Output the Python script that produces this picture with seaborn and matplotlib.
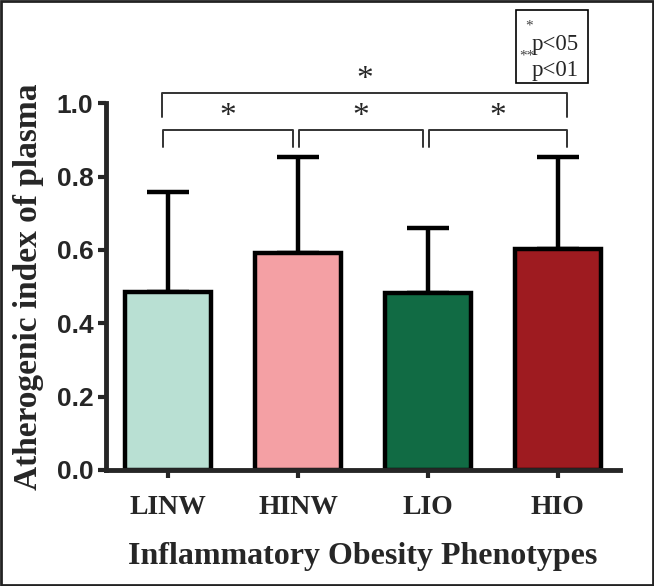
import numpy as np
import pandas as pd
import seaborn as sns
import matplotlib
matplotlib.use("Agg")
import matplotlib.pyplot as plt
from matplotlib.patches import Rectangle

groups = ["LINW", "HINW", "LIO", "HIO"]
means = [0.485, 0.592, 0.482, 0.603]
sds = [0.272, 0.262, 0.177, 0.250]
colors = ["#b9e0d3", "#f4a0a4", "#116b44", "#9e1b20"]

# significance brackets: (left group, right group, label, level)
pairs = [(0, 1, "*", 0), (1, 2, "*", 0), (2, 3, "*", 0), (0, 3, "*", 1)]

df = pd.DataFrame({"group": groups, "mean": means})

sns.set_style("ticks")
serif = ["Liberation Serif", "DejaVu Serif"]
sans = ["Liberation Sans", "DejaVu Sans"]

fig = plt.figure(figsize=(6.54, 5.86), dpi=100)
ax = fig.add_axes([0.162, 0.198, 0.786, 0.626])

sns.barplot(data=df, x="group", y="mean", hue="group", palette=colors,
            legend=False, errorbar=None, width=0.66, ax=ax,
            edgecolor="black", linewidth=3.2, saturation=1, zorder=2)

ax.errorbar(np.arange(len(groups)), means, yerr=[np.zeros(len(sds)), sds],
            fmt="none", ecolor="black", elinewidth=3.2, capsize=15,
            capthick=3.2, zorder=1)

ax.set_ylim(0, 1.0)
ax.set_xlim(-0.48, 3.48)
yt = np.arange(0, 1.01, 0.2)
ax.set_yticks(yt)
ax.set_yticklabels([f"{v:.1f}" for v in yt],
                   fontfamily=sans, fontweight="bold", fontsize=19)
ax.set_xticks(range(len(groups)))
ax.set_xticklabels(groups, fontfamily=serif, fontweight="bold", fontsize=20)
for s in ["top", "right"]:
    ax.spines[s].set_visible(False)
for s in ["left", "bottom"]:
    ax.spines[s].set_linewidth(3.5)
ax.tick_params(width=3, length=6, pad=3)
ax.tick_params(axis="x", pad=12)

ax.set_ylabel("Atherogenic index of plasma", fontfamily=serif,
              fontweight="bold", fontsize=24, labelpad=9)
ax.set_xlabel("Inflammatory Obesity Phenotypes", fontfamily=serif,
              fontweight="bold", fontsize=23, labelpad=16)

# brackets
for a, b, lab, lev in pairs:
    if lev == 0:
        y, leg, ys = 0.926, 0.88, 0.962
        xa = a + 0.01 if a > 0 else a - 0.04
        xb = b + 0.07 if b == 3 else b - 0.04
    else:
        y, leg, ys = 1.027, 0.962, 1.064
        xa, xb = a - 0.05, b + 0.07
    ax.plot([xa, xa, xb, xb], [leg, y, y, leg], color="#333333", lw=1.4,
            clip_on=False)
    ax.text((xa + xb) / 2, ys, lab, ha="center", va="center",
            fontfamily=serif, fontsize=24, clip_on=False)

# p-value key box
fig.add_artist(Rectangle((0.789, 0.858), 0.110, 0.125, transform=fig.transFigure,
                         fill=False, edgecolor="black", lw=1.2))
fig.text(0.813, 0.914, "p<05", fontfamily=serif, fontsize=16.5, va="baseline")
fig.text(0.813, 0.87, "p<01", fontfamily=serif, fontsize=16.5, va="baseline")
fig.text(0.809, 0.955, "*", fontfamily=serif, fontsize=11, color="#444444",
         ha="center", va="center")
fig.text(0.806, 0.905, "**", fontfamily=serif, fontsize=11, color="#444444",
         ha="center", va="center")

# outer frame
fig.add_artist(Rectangle((0.002, 0.002), 0.996, 0.996, transform=fig.transFigure,
                         fill=False, edgecolor="#222222", lw=2))

fig.savefig("out.png", dpi=100)
